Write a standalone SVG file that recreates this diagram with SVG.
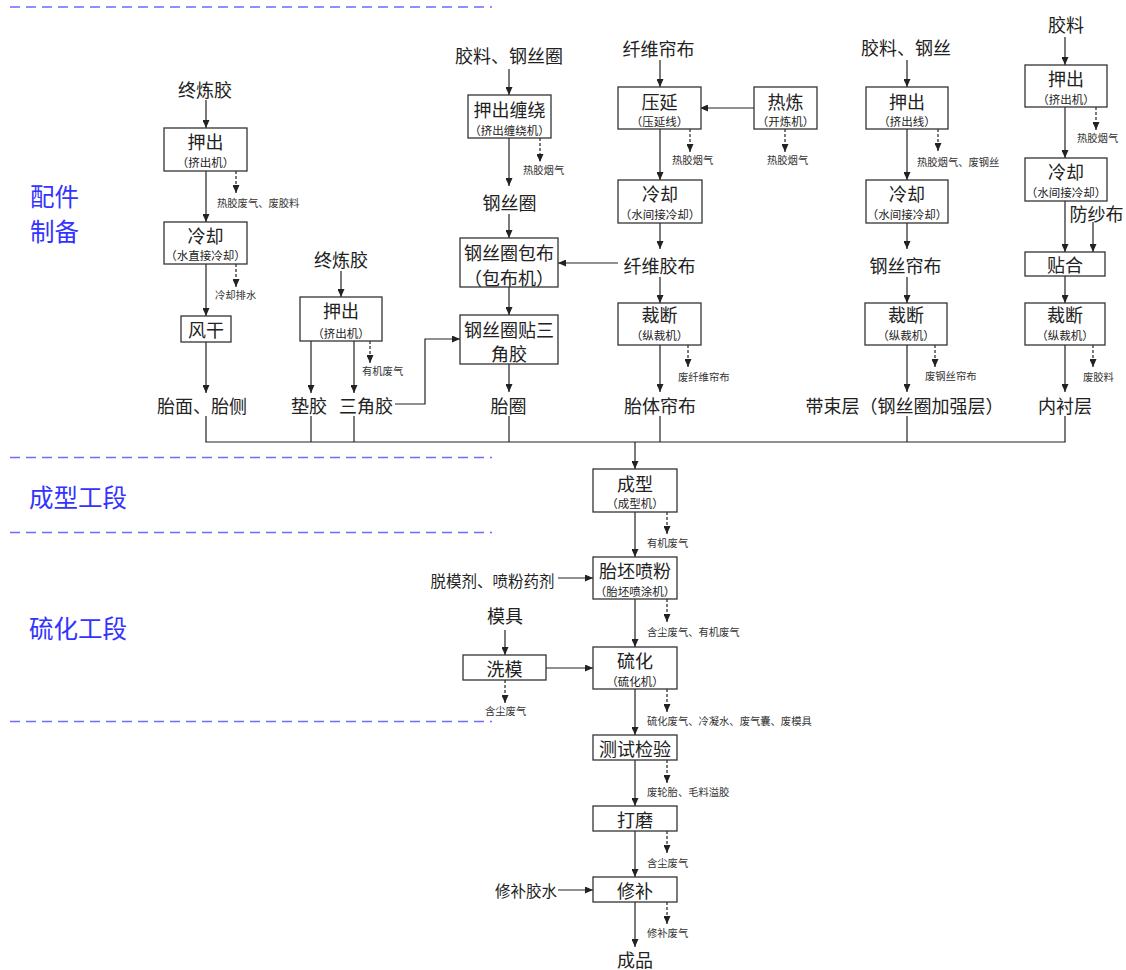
<svg xmlns="http://www.w3.org/2000/svg" width="1126" height="970" viewBox="0 0 1126 970">
<defs>
<marker id="ah" markerUnits="userSpaceOnUse" markerWidth="8" markerHeight="7" refX="8" refY="3.5" orient="auto"><path d="M0,0 L8,3.5 L0,7 z" fill="#222"/></marker>
<style>
text{font-family:"Noto Sans CJK SC","Noto Sans",sans-serif;fill:#222;dominant-baseline:central;text-anchor:middle}
.t{font-size:18px}
.s{font-size:11.5px}
.m{font-size:15.5px}
.w{font-size:10.3px;text-anchor:start;fill:#333}
.sec{font-size:24.5px;fill:#3333ff;text-anchor:start}
rect{fill:#fff;stroke:#333;stroke-width:1.3}
.c line,.c polyline{stroke:#222;stroke-width:1.2;fill:none}
.c .a{marker-end:url(#ah)}
.c .d{stroke-dasharray:3 2;marker-end:url(#ah)}
.sep{stroke:#6b6bff;stroke-width:1.5;stroke-dasharray:10 6}
</style>
</defs>
<rect x="0" y="0" width="1126" height="970" style="fill:#fff;stroke:none"/>
<g id="sections">
<line class="sep" x1="10" y1="7" x2="492" y2="7"/>
<line class="sep" x1="10" y1="457.5" x2="492" y2="457.5"/>
<line class="sep" x1="10" y1="532.5" x2="492" y2="532.5"/>
<line class="sep" x1="10" y1="721.5" x2="492" y2="721.5"/>
<text class="sec" x="30" y="195.5">配件</text>
<text class="sec" x="30" y="230">制备</text>
<text class="sec" x="29" y="496">成型工段</text>
<text class="sec" x="29" y="627.5">硫化工段</text>
</g>
<g class="c" id="connectors">
<!-- col1 -->
<line class="a" x1="206" y1="100" x2="206" y2="128"/>
<line class="a" x1="206" y1="171" x2="206" y2="222"/>
<line class="d" x1="236" y1="171" x2="236" y2="193"/>
<line class="a" x1="206" y1="264" x2="206" y2="316"/>
<line class="d" x1="236" y1="264" x2="236" y2="287"/>
<line class="a" x1="206" y1="342" x2="206" y2="393"/>
<line x1="206" y1="416" x2="206" y2="442"/>
<!-- col2 -->
<line class="a" x1="341" y1="271" x2="341" y2="297"/>
<line class="a" x1="311" y1="341" x2="311" y2="393"/>
<line class="a" x1="354" y1="341" x2="354" y2="393"/>
<line class="d" x1="370" y1="341" x2="370" y2="363"/>
<polyline class="a" points="395,404 425,404 425,339 460,339"/>
<line x1="311" y1="416" x2="311" y2="442"/>
<line x1="354" y1="416" x2="354" y2="442"/>
<!-- col3 -->
<line class="a" x1="509" y1="69" x2="509" y2="95"/>
<line class="d" x1="540" y1="138" x2="540" y2="162"/>
<line class="a" x1="509" y1="138" x2="509" y2="186"/>
<line class="a" x1="509" y1="214" x2="509" y2="238"/>
<line class="a" x1="618" y1="263" x2="558" y2="263"/>
<line class="a" x1="509" y1="287" x2="509" y2="315"/>
<line class="a" x1="509" y1="364" x2="509" y2="392"/>
<line x1="509" y1="416" x2="509" y2="442"/>
<!-- col4 -->
<line class="a" x1="660" y1="60" x2="660" y2="87"/>
<line class="a" x1="754" y1="108" x2="700" y2="108"/>
<line class="d" x1="690" y1="129" x2="690" y2="152"/>
<line class="d" x1="785" y1="129" x2="785" y2="152"/>
<line class="a" x1="660" y1="129" x2="660" y2="180"/>
<line class="a" x1="660" y1="223" x2="660" y2="249"/>
<line class="a" x1="660" y1="277" x2="660" y2="303"/>
<line class="d" x1="688" y1="345" x2="688" y2="367"/>
<line class="a" x1="660" y1="345" x2="660" y2="392"/>
<line x1="660" y1="416" x2="660" y2="442"/>
<!-- col5 -->
<line class="a" x1="907" y1="60" x2="907" y2="87"/>
<line class="d" x1="938" y1="129" x2="938" y2="151"/>
<line class="a" x1="907" y1="129" x2="907" y2="180"/>
<line class="a" x1="907" y1="223" x2="907" y2="249"/>
<line class="a" x1="907" y1="277" x2="907" y2="303"/>
<line class="d" x1="935" y1="345" x2="935" y2="367"/>
<line class="a" x1="907" y1="345" x2="907" y2="392"/>
<line x1="907" y1="416" x2="907" y2="442"/>
<!-- col6 -->
<line class="a" x1="1065" y1="37" x2="1065" y2="65"/>
<line class="d" x1="1096" y1="107" x2="1096" y2="130"/>
<line class="a" x1="1065" y1="107" x2="1065" y2="158"/>
<line class="a" x1="1065" y1="201" x2="1065" y2="252"/>
<line class="a" x1="1093" y1="222" x2="1093" y2="252"/>
<line class="a" x1="1065" y1="276" x2="1065" y2="303"/>
<line class="d" x1="1093" y1="345" x2="1093" y2="367"/>
<line class="a" x1="1065" y1="345" x2="1065" y2="392"/>
<line x1="1065" y1="416" x2="1065" y2="442"/>
<!-- bus -->
<line x1="205.4" y1="442" x2="1065.6" y2="442"/>
<line class="a" x1="635" y1="442" x2="635" y2="469"/>
<!-- center -->
<line class="d" x1="667" y1="512" x2="667" y2="534"/>
<line class="a" x1="635" y1="512" x2="635" y2="557"/>
<line class="a" x1="558" y1="578" x2="593" y2="578"/>
<line class="d" x1="667" y1="599" x2="667" y2="622"/>
<line class="a" x1="635" y1="599" x2="635" y2="647"/>
<line class="a" x1="505" y1="630" x2="505" y2="655"/>
<line class="a" x1="546" y1="668" x2="593" y2="668"/>
<line class="d" x1="505" y1="680" x2="505" y2="703"/>
<line class="d" x1="667" y1="689" x2="667" y2="712"/>
<line class="a" x1="635" y1="689" x2="635" y2="735"/>
<line class="d" x1="667" y1="760" x2="667" y2="783"/>
<line class="a" x1="635" y1="760" x2="635" y2="806"/>
<line class="d" x1="667" y1="831" x2="667" y2="853"/>
<line class="a" x1="635" y1="831" x2="635" y2="877"/>
<line class="a" x1="558" y1="890" x2="593" y2="890"/>
<line class="d" x1="667" y1="902" x2="667" y2="924"/>
<line class="a" x1="635" y1="902" x2="635" y2="947"/>
</g>
<!-- column 1 -->
<g id="in-zlj1"><text class="t" x="205" y="88.5">终炼胶</text></g>
<g id="n-yachu1"><rect x="164" y="128" width="83" height="43"/><text class="t" x="205.5" y="140.5">押出</text><text class="s" x="205.5" y="162">（挤出机）</text></g>
<g id="w-1"><text class="w" x="217" y="202.5">热胶废气、废胶料</text></g>
<g id="n-lengque1"><rect x="164" y="222" width="83" height="42"/><text class="t" x="205.5" y="234.5">冷却</text><text class="s" x="205.5" y="255">（水直接冷却）</text></g>
<g id="w-2"><text class="w" x="215" y="294">冷却排水</text></g>
<g id="n-fenggan"><rect x="181" y="316" width="50" height="26"/><text class="t" x="206" y="329">风干</text></g>
<g id="out-taimian"><text class="t" x="202" y="405">胎面、胎侧</text></g>
<!-- column 2 -->
<g id="in-zlj2"><text class="t" x="341" y="258.5">终炼胶</text></g>
<g id="n-yachu2"><rect x="300" y="297" width="82" height="44"/><text class="t" x="341" y="310">押出</text><text class="s" x="341" y="332.5">（挤出机）</text></g>
<g id="w-3"><text class="w" x="362" y="370.5">有机废气</text></g>
<g id="out-dianjiao"><text class="t" x="309" y="405">垫胶</text></g>
<g id="out-sanjiao"><text class="t" x="366" y="405">三角胶</text></g>
<!-- column 3 -->
<g id="in-jlgsq"><text class="t" x="509" y="55">胶料、钢丝圈</text></g>
<g id="n-chanrao"><rect x="468" y="95" width="83" height="43"/><text class="t" x="509.5" y="108.5">押出缠绕</text><text class="s" x="509.5" y="130">（挤出缠绕机）</text></g>
<g id="w-4"><text class="w" x="523" y="169">热胶烟气</text></g>
<g id="mid-gsq"><text class="t" x="509.5" y="201.5">钢丝圈</text></g>
<g id="n-baobu"><rect x="460" y="238" width="98" height="49"/><text class="t" x="509" y="252">钢丝圈包布</text><text class="t" x="509" y="277">（包布机）</text></g>
<g id="n-tiesanjiao"><rect x="460" y="315" width="98" height="49"/><text class="t" x="509" y="328.5">钢丝圈贴三</text><text class="t" x="509" y="353">角胶</text></g>
<g id="out-taiquan"><text class="t" x="508.5" y="404.5">胎圈</text></g>
<!-- column 4 -->
<g id="in-xwlb"><text class="t" x="658.5" y="47.5">纤维帘布</text></g>
<g id="n-yayan"><rect x="618" y="87" width="83" height="42"/><text class="t" x="659.5" y="100.5">压延</text><text class="s" x="659.5" y="121">（压延线）</text></g>
<g id="n-relian"><rect x="754" y="87" width="63" height="42"/><text class="t" x="785.5" y="100.5">热炼</text><text class="s" x="785.5" y="121">（开炼机）</text></g>
<g id="w-5"><text class="w" x="672" y="159">热胶烟气</text></g>
<g id="w-6"><text class="w" x="767" y="159">热胶烟气</text></g>
<g id="n-lengque4"><rect x="618" y="180" width="84" height="43"/><text class="t" x="660" y="193">冷却</text><text class="s" x="660" y="214">（水间接冷却）</text></g>
<g id="mid-xwjb"><text class="t" x="659.5" y="264.5">纤维胶布</text></g>
<g id="n-caiduan4"><rect x="618" y="303" width="83" height="42"/><text class="t" x="659.5" y="314">裁断</text><text class="s" x="659.5" y="335">（纵裁机）</text></g>
<g id="w-7"><text class="w" x="678" y="376">废纤维帘布</text></g>
<g id="out-taiti"><text class="t" x="660" y="404.5">胎体帘布</text></g>
<!-- column 5 -->
<g id="in-jlgs"><text class="t" x="906" y="46.5">胶料、钢丝</text></g>
<g id="n-yachu5"><rect x="866" y="87" width="82" height="42"/><text class="t" x="907" y="100.5">押出</text><text class="s" x="907" y="121">（挤出线）</text></g>
<g id="w-8"><text class="w" x="917" y="161">热胶烟气、废钢丝</text></g>
<g id="n-lengque5"><rect x="866" y="180" width="82" height="43"/><text class="t" x="907" y="193">冷却</text><text class="s" x="907" y="214">（水间接冷却）</text></g>
<g id="mid-gslb"><text class="t" x="905.5" y="264.5">钢丝帘布</text></g>
<g id="n-caiduan5"><rect x="865" y="303" width="82" height="42"/><text class="t" x="906" y="314">裁断</text><text class="s" x="906" y="335">（纵裁机）</text></g>
<g id="w-9"><text class="w" x="925" y="375.5">废钢丝帘布</text></g>
<g id="out-daishu"><text class="t" x="904.5" y="404.5">带束层（钢丝圈加强层）</text></g>
<!-- column 6 -->
<g id="in-jl"><text class="t" x="1066" y="23.5">胶料</text></g>
<g id="n-yachu6"><rect x="1025" y="65" width="82" height="42"/><text class="t" x="1066" y="78">押出</text><text class="s" x="1066" y="99">（挤出机）</text></g>
<g id="w-10"><text class="w" x="1077" y="137.5">热胶烟气</text></g>
<g id="n-lengque6"><rect x="1025" y="158" width="82" height="43"/><text class="t" x="1066" y="171">冷却</text><text class="s" x="1066" y="192">（水间接冷却）</text></g>
<g id="in-fangsha"><text class="t" x="1096.5" y="212.5">防纱布</text></g>
<g id="n-tiehe"><rect x="1025" y="252" width="80" height="24"/><text class="t" x="1065" y="264">贴合</text></g>
<g id="n-caiduan6"><rect x="1025" y="303" width="80" height="42"/><text class="t" x="1065" y="314">裁断</text><text class="s" x="1065" y="335">（纵裁机）</text></g>
<g id="w-11"><text class="w" x="1083" y="376">废胶料</text></g>
<g id="out-neichen"><text class="t" x="1065" y="404.5">内衬层</text></g>
<!-- center column -->
<g id="n-chengxing"><rect x="593" y="469" width="84" height="43"/><text class="t" x="635" y="482.5">成型</text><text class="s" x="635" y="503">（成型机）</text></g>
<g id="w-12"><text class="w" x="647" y="542">有机废气</text></g>
<g id="in-tuomo"><text class="m" x="492.5" y="579.5">脱模剂、喷粉药剂</text></g>
<g id="n-penfen"><rect x="593" y="557" width="84" height="42"/><text class="t" x="635" y="570">胎坯喷粉</text><text class="s" x="635" y="590.5">（胎坯喷涂机）</text></g>
<g id="w-13"><text class="w" x="647" y="631">含尘废气、有机废气</text></g>
<g id="in-moju"><text class="t" x="505" y="615">模具</text></g>
<g id="n-ximo"><rect x="463" y="655" width="83" height="25"/><text class="t" x="504.5" y="667.5">洗模</text></g>
<g id="w-14"><text class="w" x="485" y="710.5">含尘废气</text></g>
<g id="n-liuhua"><rect x="593" y="647" width="84" height="42"/><text class="t" x="635" y="660">硫化</text><text class="s" x="635" y="680.5">（硫化机）</text></g>
<g id="w-15"><text class="w" x="647" y="720">硫化废气、冷凝水、废气囊、废模具</text></g>
<g id="n-ceshi"><rect x="593" y="735" width="84" height="25"/><text class="t" x="635" y="747.5">测试检验</text></g>
<g id="w-16"><text class="w" x="647" y="791">废轮胎、毛料溢胶</text></g>
<g id="n-damo"><rect x="593" y="806" width="84" height="25"/><text class="t" x="635" y="818.5">打磨</text></g>
<g id="w-17"><text class="w" x="647" y="862">含尘废气</text></g>
<g id="in-xiubujs"><text class="m" x="526" y="890">修补胶水</text></g>
<g id="n-xiubu"><rect x="593" y="877" width="84" height="25"/><text class="t" x="635" y="889.5">修补</text></g>
<g id="w-18"><text class="w" x="647" y="932">修补废气</text></g>
<g id="out-chengpin"><text class="t" x="635" y="958.5">成品</text></g>
</svg>
